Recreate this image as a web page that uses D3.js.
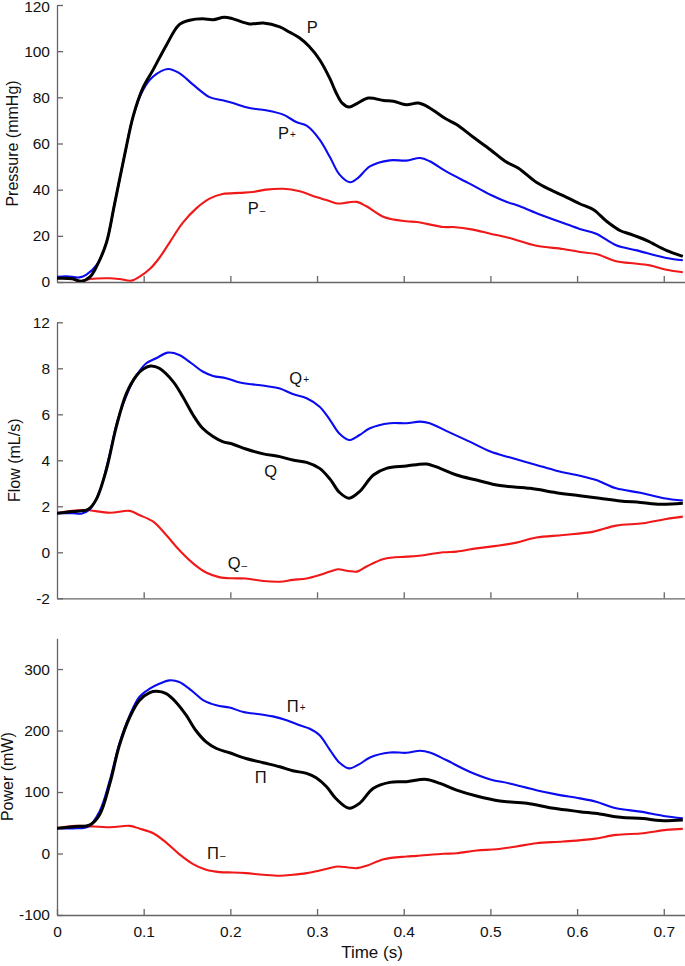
<!DOCTYPE html>
<html>
<head>
<meta charset="utf-8">
<script src="https://cdn.jsdelivr.net/npm/d3@7"></script>
<style>
  body { margin: 0; background: #fff; }
  text { font-family: "Liberation Sans", Arial, sans-serif; fill: #111; }
</style>
</head>
<body>
<div id="plot"></div>
<script>
// pressure / flow / power waves, time in s

const pTotal = [[0,1.6],[0.018,1.4],[0.028,0.3],[0.038,2.2],[0.046,7],[0.057,17],[0.066,33],[0.078,55],[0.088,72],[0.099,84],[0.111,92],[0.126,102.5],[0.141,111.5],[0.153,113.4],[0.168,114],[0.18,113.6],[0.193,114.7],[0.203,114],[0.222,111.8],[0.238,112.2],[0.257,110.5],[0.268,108.3],[0.28,105.7],[0.291,102],[0.303,96.3],[0.315,88],[0.322,82],[0.329,77.5],[0.337,75.8],[0.346,77.3],[0.359,79.7],[0.377,78.6],[0.388,78.3],[0.403,76.8],[0.417,77.5],[0.43,75.4],[0.448,70.8],[0.461,68.2],[0.48,62.8],[0.5,57.3],[0.517,52.3],[0.532,49.4],[0.553,43.2],[0.569,40],[0.584,37.4],[0.603,33.9],[0.619,31.3],[0.634,26.3],[0.65,22.2],[0.661,20.8],[0.68,18],[0.703,13.7],[0.722,11.1]];
const pPlus = [[0,2.2],[0.011,2.5],[0.026,2],[0.034,3.2],[0.046,7.5],[0.057,17],[0.066,33],[0.078,55],[0.088,72],[0.099,83],[0.111,89],[0.128,92.3],[0.141,90.5],[0.157,85.5],[0.176,80.1],[0.191,78.7],[0.203,77.5],[0.222,75.4],[0.241,74.4],[0.261,72.5],[0.276,69.3],[0.288,67.7],[0.303,61.7],[0.315,54],[0.326,46.5],[0.338,43.2],[0.347,45],[0.361,50.1],[0.384,52.7],[0.403,52.6],[0.419,53.7],[0.43,52.3],[0.449,47.9],[0.476,42.6],[0.5,37.8],[0.519,34.7],[0.534,32.8],[0.557,29.2],[0.584,25.6],[0.603,23],[0.622,20.9],[0.645,15.9],[0.669,13.7],[0.703,10.4],[0.722,9.4]];
const pMinus = [[0,2],[0.015,1.7],[0.026,0.3],[0.038,1.3],[0.061,1.6],[0.072,1.3],[0.086,0.6],[0.095,2.2],[0.107,5.6],[0.118,10.4],[0.13,17.2],[0.145,25.6],[0.161,32],[0.176,36.1],[0.191,38.1],[0.211,38.6],[0.226,39],[0.241,40],[0.261,40.4],[0.28,39.3],[0.299,36.8],[0.315,35],[0.324,34],[0.336,34.5],[0.346,34.7],[0.357,32.8],[0.377,28.2],[0.403,26.3],[0.415,26],[0.446,23.8],[0.457,23.8],[0.48,22.7],[0.5,20.9],[0.522,19.1],[0.553,15.7],[0.584,14.3],[0.603,13],[0.622,12.1],[0.645,9],[0.661,8.2],[0.684,7.2],[0.703,5.3],[0.722,4.2]];

const qTotal = [[0,1.7],[0.018,1.77],[0.036,1.87],[0.045,2.28],[0.057,3.6],[0.068,5.4],[0.08,6.9],[0.092,7.7],[0.1,7.98],[0.108,8.1],[0.118,8.0],[0.134,7.42],[0.145,6.77],[0.157,5.97],[0.168,5.39],[0.18,5.03],[0.191,4.81],[0.203,4.7],[0.218,4.49],[0.238,4.28],[0.257,4.16],[0.272,4.01],[0.288,3.91],[0.303,3.65],[0.315,3.18],[0.326,2.6],[0.337,2.35],[0.349,2.64],[0.365,3.36],[0.38,3.65],[0.403,3.75],[0.426,3.84],[0.442,3.65],[0.461,3.36],[0.484,3.14],[0.511,2.9],[0.546,2.78],[0.576,2.59],[0.603,2.46],[0.626,2.35],[0.65,2.23],[0.673,2.17],[0.696,2.09],[0.722,2.13]];
const qPlus = [[0,1.7],[0.018,1.7],[0.028,1.68],[0.038,1.87],[0.049,2.64],[0.061,4.3],[0.07,5.75],[0.082,6.99],[0.092,7.71],[0.103,8.22],[0.115,8.45],[0.128,8.68],[0.141,8.58],[0.155,8.22],[0.168,7.86],[0.18,7.67],[0.195,7.57],[0.211,7.38],[0.226,7.3],[0.241,7.23],[0.257,7.12],[0.272,6.88],[0.288,6.7],[0.303,6.33],[0.315,5.75],[0.326,5.15],[0.337,4.88],[0.349,5.1],[0.361,5.39],[0.384,5.61],[0.403,5.61],[0.419,5.68],[0.43,5.61],[0.449,5.28],[0.476,4.81],[0.5,4.38],[0.522,4.13],[0.553,3.8],[0.576,3.55],[0.603,3.33],[0.622,3.14],[0.645,2.78],[0.673,2.59],[0.7,2.35],[0.722,2.25]];
const qMinus = [[0,1.7],[0.03,1.84],[0.061,1.72],[0.084,1.8],[0.095,1.62],[0.111,1.33],[0.126,0.75],[0.141,0.1],[0.157,-0.48],[0.172,-0.88],[0.188,-1.09],[0.203,-1.13],[0.218,-1.14],[0.238,-1.25],[0.257,-1.28],[0.272,-1.2],[0.288,-1.14],[0.303,-0.99],[0.315,-0.84],[0.324,-0.74],[0.336,-0.81],[0.346,-0.84],[0.357,-0.62],[0.377,-0.29],[0.403,-0.19],[0.415,-0.16],[0.446,0],[0.461,0.03],[0.484,0.17],[0.507,0.28],[0.53,0.42],[0.553,0.64],[0.584,0.75],[0.619,0.9],[0.645,1.16],[0.676,1.26],[0.703,1.45],[0.722,1.55]];

const wTotal = [[0,41],[0.022,43.8],[0.038,46.5],[0.049,62.7],[0.061,114],[0.072,176],[0.084,222],[0.095,249],[0.107,261.6],[0.115,263.8],[0.126,260],[0.137,246.5],[0.149,225],[0.16,200.5],[0.172,181.6],[0.184,170.8],[0.199,163.8],[0.218,154.6],[0.238,147.6],[0.257,141],[0.272,134.6],[0.288,130.3],[0.299,123.2],[0.311,108.6],[0.322,89],[0.337,73.5],[0.349,81.6],[0.365,106],[0.384,115.7],[0.403,116.8],[0.426,120.5],[0.442,114],[0.461,103],[0.484,93.5],[0.511,85.4],[0.542,81.6],[0.573,73.5],[0.603,68.1],[0.626,64.3],[0.65,58.9],[0.676,56.8],[0.696,53.5],[0.722,54.6]];
const wPlus = [[0,41],[0.022,41],[0.036,43.8],[0.049,68],[0.061,119.5],[0.072,179],[0.084,225],[0.095,254.6],[0.107,268],[0.118,276],[0.13,281.6],[0.141,279],[0.155,265.4],[0.168,250],[0.184,241],[0.199,237.3],[0.215,230.3],[0.234,226.5],[0.249,223],[0.265,216.8],[0.28,208.6],[0.291,203.2],[0.303,192.4],[0.315,168],[0.326,147.5],[0.337,138.4],[0.349,145.4],[0.361,156.2],[0.384,164.3],[0.403,163.8],[0.419,167],[0.43,164.3],[0.449,152],[0.476,133],[0.5,120.5],[0.522,114],[0.553,103],[0.576,96.2],[0.603,89.7],[0.622,84.3],[0.645,73.5],[0.673,68.1],[0.7,61],[0.722,57.3]];
const wMinus = [[0,41],[0.022,44.9],[0.061,42.7],[0.084,44.9],[0.095,40.5],[0.111,33],[0.126,17.8],[0.141,-1.1],[0.157,-17.3],[0.172,-26.5],[0.188,-30.3],[0.203,-30.8],[0.218,-31.9],[0.238,-34.6],[0.257,-36.2],[0.272,-34.6],[0.288,-31.9],[0.303,-27.6],[0.315,-23.5],[0.324,-21.1],[0.336,-22.7],[0.346,-23.8],[0.357,-20],[0.377,-9.2],[0.403,-4.9],[0.415,-3.8],[0.446,-0.5],[0.461,0.5],[0.484,4.9],[0.507,7],[0.53,11.4],[0.553,16.8],[0.584,19.5],[0.619,23.8],[0.645,30.3],[0.676,33],[0.703,38.4],[0.722,40]];

const timeTicks = [0, 0.1, 0.2, 0.3, 0.4, 0.5, 0.6, 0.7];
const pTicks = [0, 20, 40, 60, 80, 100, 120];
const qTicks = [-2, 0, 2, 4, 6, 8, 10];
const qTickLabels = ["-2", "0", "2", "4", "6", "8", "12"]; // top label reads 12 in the original
const wTicks = [-100, 0, 100, 200, 300];

// [main letter, subscript, time, value]
const pLabels = [["P", "", 0.288, 108], ["P", "+", 0.255, 62], ["P", "\u2013", 0.220, 29.5]];
const qLabels = [["Q", "+", 0.268, 7.32], ["Q", "", 0.239, 3.27], ["Q", "\u2013", 0.197, -0.73]];
const wLabels = [["\u03A0", "+", 0.265, 230], ["\u03A0", "", 0.228, 115], ["\u03A0", "\u2013", 0.173, -8.6]];

const w = 685;
const h = 966;
const left = 57, right = 685;

const svg = d3.select("div#plot")
    .append("svg")
    .attr("width", w)
    .attr("height", h);

const xScale = d3.scaleLinear().domain([0, 0.7245]).range([left, right]);

const panels = [
  { id: "p", domain: [0, 120], range: [282, 5], ticks: pTicks, tickLabels: null,
    title: "Pressure (mmHg)", titleX: 18, series: [pMinus, pPlus, pTotal], labels: pLabels },
  { id: "q", domain: [-2, 10], range: [598.3, 322.3], ticks: qTicks, tickLabels: qTickLabels,
    title: "Flow (mL/s)", titleX: 20, series: [qMinus, qPlus, qTotal], labels: qLabels },
  { id: "w", domain: [-100, 350], range: [915, 638.3], ticks: wTicks, tickLabels: null,
    title: "Power (mW)", titleX: 13, series: [wMinus, wPlus, wTotal], labels: wLabels }
];

const colors = ["#f01818", "#0b0bf0", "#000"];
const widths = [2.1, 2.1, 3];

panels.forEach((pn, k) => {
  const yScale = d3.scaleLinear().domain(pn.domain).range(pn.range);
  const yBottom = pn.range[0];

  svg.append("clipPath")
      .attr("id", "clip-" + pn.id)
    .append("rect")
      .attr("x", left)
      .attr("y", pn.range[1] - 3)
      .attr("width", right - left)
      .attr("height", pn.range[0] - pn.range[1] + 3);

  const xAxis = d3.axisBottom(xScale)
      .tickValues(timeTicks)
      .tickSizeInner(-6)
      .tickSizeOuter(0)
      .tickPadding(11)
      .tickFormat(k === 2 ? d3.format("") : () => "");

  const gx = svg.append("g")
      .attr("class", "xAxis")
      .attr("transform", `translate(0, ${yBottom})`)
      .call(xAxis);

  const yAxis = d3.axisLeft(yScale)
      .tickValues(pn.ticks)
      .tickSizeInner(-6)
      .tickSizeOuter(0)
      .tickPadding(7)
      .tickFormat((d, i) => pn.tickLabels ? pn.tickLabels[i] : d);

  const gy = svg.append("g")
      .attr("class", "yAxis")
      .attr("transform", `translate(${left}, 0)`)
      .call(yAxis);

  [gx, gy].forEach(g => {
    g.select(".domain").attr("stroke", "#666").attr("stroke-width", 1.3);
    g.selectAll(".tick line").attr("stroke", "#666").attr("stroke-width", 1.3);
    g.selectAll(".tick text")
        .style("font-family", "'Liberation Sans', Arial, sans-serif")
        .style("font-size", "15.5px")
        .attr("fill", "#111");
  });
  gx.selectAll(".tick").filter(d => d === 0 && k < 2).select("line").remove();
  // keep the topmost label inside the page
  if (k === 0) gy.selectAll(".tick").filter(d => d === 120).select("text").attr("dy", "0.42em");

  svg.append("text")
      .attr("transform", `translate(${pn.titleX}, ${(pn.range[0] + pn.range[1]) / 2}) rotate(-90)`)
      .attr("text-anchor", "middle")
      .style("font-size", "16px")
      .text(pn.title);

  const line = d3.line()
      .x(d => xScale(d[0]))
      .y(d => yScale(d[1]))
      .curve(d3.curveCatmullRom.alpha(0.5));

  svg.append("g")
      .attr("clip-path", `url(#clip-${pn.id})`)
    .selectAll("path")
    .data(pn.series)
    .enter()
    .append("path")
      .attr("d", line)
      .attr("fill", "none")
      .attr("stroke", (d, i) => colors[i])
      .attr("stroke-width", (d, i) => widths[i])
      .attr("stroke-linejoin", "round");

  pn.labels.forEach(lb => {
    const t = svg.append("text")
        .attr("x", xScale(lb[2]))
        .attr("y", yScale(lb[3]))
        .style("font-size", "16.5px")
        .text(lb[0]);
    if (lb[1]) {
      t.append("tspan")
          .attr("dx", 1)
          .attr("dy", lb[1] === "+" ? -1 : 0)
          .style("font-size", "10px")
          .text(lb[1]);
    }
  });
});

svg.append("text")
    .attr("x", 372)
    .attr("y", 958)
    .attr("text-anchor", "middle")
    .style("font-size", "17px")
    .text("Time (s)");
</script>
</body>
</html>
